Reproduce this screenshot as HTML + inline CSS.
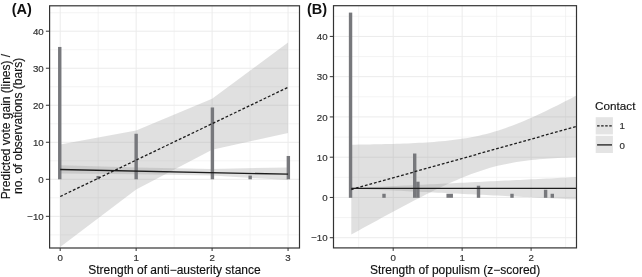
<!DOCTYPE html>
<html><head><meta charset="utf-8"><title>Figure</title>
<style>html,body{margin:0;padding:0;background:#fff;}svg{display:block;will-change:transform;}</style></head>
<body>
<svg width="642" height="277" viewBox="0 0 642 277" font-family='"Liberation Sans", sans-serif'>
<rect width="642" height="277" fill="#fff"/>
<clipPath id="clipA"><rect x="49.6" y="5.8" width="249.9" height="242.2"/></clipPath>
<rect x="49.6" y="5.8" width="249.9" height="242.2" fill="#fff"/>
<line x1="49.6" x2="299.5" y1="234.84" y2="234.84" stroke="#efefef" stroke-width="0.7"/>
<line x1="49.6" x2="299.5" y1="197.81" y2="197.81" stroke="#efefef" stroke-width="0.7"/>
<line x1="49.6" x2="299.5" y1="160.79" y2="160.79" stroke="#efefef" stroke-width="0.7"/>
<line x1="49.6" x2="299.5" y1="123.76" y2="123.76" stroke="#efefef" stroke-width="0.7"/>
<line x1="49.6" x2="299.5" y1="86.74" y2="86.74" stroke="#efefef" stroke-width="0.7"/>
<line x1="49.6" x2="299.5" y1="49.71" y2="49.71" stroke="#efefef" stroke-width="0.7"/>
<line x1="49.6" x2="299.5" y1="12.69" y2="12.69" stroke="#efefef" stroke-width="0.7"/>
<line y1="5.8" y2="248.0" x1="98.18" x2="98.18" stroke="#efefef" stroke-width="0.7"/>
<line y1="5.8" y2="248.0" x1="174.12" x2="174.12" stroke="#efefef" stroke-width="0.7"/>
<line y1="5.8" y2="248.0" x1="250.07" x2="250.07" stroke="#efefef" stroke-width="0.7"/>
<line x1="49.6" x2="299.5" y1="216.33" y2="216.33" stroke="#ebebeb" stroke-width="1"/>
<line x1="49.6" x2="299.5" y1="179.30" y2="179.30" stroke="#ebebeb" stroke-width="1"/>
<line x1="49.6" x2="299.5" y1="142.28" y2="142.28" stroke="#ebebeb" stroke-width="1"/>
<line x1="49.6" x2="299.5" y1="105.25" y2="105.25" stroke="#ebebeb" stroke-width="1"/>
<line x1="49.6" x2="299.5" y1="68.23" y2="68.23" stroke="#ebebeb" stroke-width="1"/>
<line x1="49.6" x2="299.5" y1="31.20" y2="31.20" stroke="#ebebeb" stroke-width="1"/>
<line y1="5.8" y2="248.0" x1="60.20" x2="60.20" stroke="#ebebeb" stroke-width="1"/>
<line y1="5.8" y2="248.0" x1="136.15" x2="136.15" stroke="#ebebeb" stroke-width="1"/>
<line y1="5.8" y2="248.0" x1="212.10" x2="212.10" stroke="#ebebeb" stroke-width="1"/>
<line y1="5.8" y2="248.0" x1="288.05" x2="288.05" stroke="#ebebeb" stroke-width="1"/>
<g clip-path="url(#clipA)">
<polygon points="60.20,144.60 136.15,130.60 212.10,98.80 288.05,42.50 288.05,133.10 212.10,149.70 136.15,189.40 60.20,247.00" fill="#999999" fill-opacity="0.3"/>
<polygon points="60.20,165.30 136.15,167.50 212.10,169.00 288.05,167.40 288.05,180.00 212.10,175.60 136.15,174.30 60.20,173.60" fill="#999999" fill-opacity="0.3"/>
<rect x="58.05" y="46.94" width="3.4" height="132.36" fill="#77787c" fill-opacity="1"/>
<rect x="96.48" y="175.97" width="3.4" height="3.33" fill="#77787c" fill-opacity="1"/>
<rect x="134.45" y="133.76" width="3.4" height="45.54" fill="#77787c" fill-opacity="1"/>
<rect x="210.70" y="107.47" width="3.4" height="71.83" fill="#77787c" fill-opacity="1"/>
<rect x="248.47" y="175.60" width="3.4" height="3.70" fill="#77787c" fill-opacity="1"/>
<rect x="286.65" y="155.97" width="3.4" height="23.33" fill="#77787c" fill-opacity="1"/>
<line x1="60.20" y1="196.5" x2="288.05" y2="87.3" stroke="#1c1c1c" stroke-width="1.3" stroke-dasharray="2.8 1.9"/>
<line x1="60.20" y1="169.5" x2="288.05" y2="174.2" stroke="#1c1c1c" stroke-width="1.3"/>
</g>
<rect x="49.6" y="5.8" width="249.9" height="242.2" fill="none" stroke="#333333" stroke-width="1.2"/>
<line x1="45.90" x2="49.6" y1="216.33" y2="216.33" stroke="#333333" stroke-width="1"/>
<text x="43.70" y="219.93" text-anchor="end" font-size="9.7" fill="#333333" stroke="#333333" stroke-width="0.2">−10</text>
<line x1="45.90" x2="49.6" y1="179.30" y2="179.30" stroke="#333333" stroke-width="1"/>
<text x="43.70" y="182.90" text-anchor="end" font-size="9.7" fill="#333333" stroke="#333333" stroke-width="0.2">0</text>
<line x1="45.90" x2="49.6" y1="142.28" y2="142.28" stroke="#333333" stroke-width="1"/>
<text x="43.70" y="145.88" text-anchor="end" font-size="9.7" fill="#333333" stroke="#333333" stroke-width="0.2">10</text>
<line x1="45.90" x2="49.6" y1="105.25" y2="105.25" stroke="#333333" stroke-width="1"/>
<text x="43.70" y="108.85" text-anchor="end" font-size="9.7" fill="#333333" stroke="#333333" stroke-width="0.2">20</text>
<line x1="45.90" x2="49.6" y1="68.23" y2="68.23" stroke="#333333" stroke-width="1"/>
<text x="43.70" y="71.83" text-anchor="end" font-size="9.7" fill="#333333" stroke="#333333" stroke-width="0.2">30</text>
<line x1="45.90" x2="49.6" y1="31.20" y2="31.20" stroke="#333333" stroke-width="1"/>
<text x="43.70" y="34.80" text-anchor="end" font-size="9.7" fill="#333333" stroke="#333333" stroke-width="0.2">40</text>
<line y1="248.0" y2="251.00" x1="60.20" x2="60.20" stroke="#333333" stroke-width="1"/>
<text x="60.20" y="260.90" text-anchor="middle" font-size="9.7" fill="#333333" stroke="#333333" stroke-width="0.2">0</text>
<line y1="248.0" y2="251.00" x1="136.15" x2="136.15" stroke="#333333" stroke-width="1"/>
<text x="136.15" y="260.90" text-anchor="middle" font-size="9.7" fill="#333333" stroke="#333333" stroke-width="0.2">1</text>
<line y1="248.0" y2="251.00" x1="212.10" x2="212.10" stroke="#333333" stroke-width="1"/>
<text x="212.10" y="260.90" text-anchor="middle" font-size="9.7" fill="#333333" stroke="#333333" stroke-width="0.2">2</text>
<line y1="248.0" y2="251.00" x1="288.05" x2="288.05" stroke="#333333" stroke-width="1"/>
<text x="288.05" y="260.90" text-anchor="middle" font-size="9.7" fill="#333333" stroke="#333333" stroke-width="0.2">3</text>
<clipPath id="clipB"><rect x="333.5" y="5.7" width="243.0" height="242.20000000000002"/></clipPath>
<rect x="333.5" y="5.7" width="243.0" height="242.20000000000002" fill="#fff"/>
<line x1="333.5" x2="576.5" y1="217.58" y2="217.58" stroke="#efefef" stroke-width="0.7"/>
<line x1="333.5" x2="576.5" y1="177.32" y2="177.32" stroke="#efefef" stroke-width="0.7"/>
<line x1="333.5" x2="576.5" y1="137.06" y2="137.06" stroke="#efefef" stroke-width="0.7"/>
<line x1="333.5" x2="576.5" y1="96.80" y2="96.80" stroke="#efefef" stroke-width="0.7"/>
<line x1="333.5" x2="576.5" y1="56.54" y2="56.54" stroke="#efefef" stroke-width="0.7"/>
<line x1="333.5" x2="576.5" y1="16.28" y2="16.28" stroke="#efefef" stroke-width="0.7"/>
<line y1="5.7" y2="247.9" x1="358.72" x2="358.72" stroke="#efefef" stroke-width="0.7"/>
<line y1="5.7" y2="247.9" x1="427.68" x2="427.68" stroke="#efefef" stroke-width="0.7"/>
<line y1="5.7" y2="247.9" x1="496.62" x2="496.62" stroke="#efefef" stroke-width="0.7"/>
<line y1="5.7" y2="247.9" x1="565.58" x2="565.58" stroke="#efefef" stroke-width="0.7"/>
<line x1="333.5" x2="576.5" y1="237.71" y2="237.71" stroke="#ebebeb" stroke-width="1"/>
<line x1="333.5" x2="576.5" y1="197.45" y2="197.45" stroke="#ebebeb" stroke-width="1"/>
<line x1="333.5" x2="576.5" y1="157.19" y2="157.19" stroke="#ebebeb" stroke-width="1"/>
<line x1="333.5" x2="576.5" y1="116.93" y2="116.93" stroke="#ebebeb" stroke-width="1"/>
<line x1="333.5" x2="576.5" y1="76.67" y2="76.67" stroke="#ebebeb" stroke-width="1"/>
<line x1="333.5" x2="576.5" y1="36.41" y2="36.41" stroke="#ebebeb" stroke-width="1"/>
<line y1="5.7" y2="247.9" x1="393.20" x2="393.20" stroke="#ebebeb" stroke-width="1"/>
<line y1="5.7" y2="247.9" x1="462.15" x2="462.15" stroke="#ebebeb" stroke-width="1"/>
<line y1="5.7" y2="247.9" x1="531.10" x2="531.10" stroke="#ebebeb" stroke-width="1"/>
<g clip-path="url(#clipB)">
<polygon points="351.30,144.69 355.05,144.65 358.81,144.60 362.56,144.55 366.31,144.49 370.07,144.43 373.82,144.36 377.57,144.29 381.33,144.21 385.08,144.12 388.83,144.02 392.59,143.92 396.34,143.81 400.09,143.68 403.85,143.55 407.60,143.40 411.35,143.24 415.11,143.06 418.86,142.87 422.61,142.66 426.37,142.43 430.12,142.18 433.87,141.90 437.63,141.60 441.38,141.28 445.13,140.92 448.89,140.52 452.64,140.09 456.39,139.62 460.15,139.10 463.90,138.53 467.65,137.92 471.41,137.24 475.16,136.51 478.91,135.71 482.67,134.84 486.42,133.91 490.17,132.91 493.93,131.84 497.68,130.70 501.43,129.49 505.19,128.21 508.94,126.87 512.69,125.47 516.45,124.01 520.20,122.49 523.95,120.93 527.71,119.32 531.46,117.66 535.21,115.97 538.97,114.24 542.72,112.48 546.47,110.69 550.23,108.87 553.98,107.03 557.73,105.16 561.49,103.28 565.24,101.37 568.99,99.45 572.75,97.52 576.50,95.57 576.50,157.20 572.75,157.33 568.99,157.48 565.24,157.64 561.49,157.81 557.73,158.01 553.98,158.23 550.23,158.46 546.47,158.73 542.72,159.02 538.97,159.34 535.21,159.69 531.46,160.08 527.71,160.51 523.95,160.99 520.20,161.51 516.45,162.08 512.69,162.71 508.94,163.40 505.19,164.16 501.43,164.97 497.68,165.86 493.93,166.82 490.17,167.85 486.42,168.96 482.67,170.13 478.91,171.38 475.16,172.69 471.41,174.07 467.65,175.51 463.90,177.01 460.15,178.56 456.39,180.17 452.64,181.82 448.89,183.51 445.13,185.24 441.38,187.00 437.63,188.80 433.87,190.62 430.12,192.47 426.37,194.35 422.61,196.24 418.86,198.16 415.11,200.09 411.35,202.04 407.60,204.01 403.85,205.99 400.09,207.98 396.34,209.98 392.59,211.99 388.83,214.01 385.08,216.04 381.33,218.08 377.57,220.13 373.82,222.18 370.07,224.24 366.31,226.30 362.56,228.37 358.81,230.45 355.05,232.53 351.30,234.61" fill="#999999" fill-opacity="0.3"/>
<polygon points="351.30,187.59 355.05,187.56 358.81,187.49 362.56,187.39 366.31,187.26 370.07,187.12 373.82,186.97 377.57,186.80 381.33,186.64 385.08,186.47 388.83,186.29 392.59,186.12 396.34,185.94 400.09,185.76 403.85,185.59 407.60,185.41 411.35,185.22 415.11,185.04 418.86,184.86 422.61,184.68 426.37,184.50 430.12,184.31 433.87,184.13 437.63,183.95 441.38,183.76 445.13,183.58 448.89,183.39 452.64,183.21 456.39,183.03 460.15,182.84 463.90,182.66 467.65,182.47 471.41,182.29 475.16,182.10 478.91,181.92 482.67,181.73 486.42,181.55 490.17,181.36 493.93,181.18 497.68,180.99 501.43,180.81 505.19,180.62 508.94,180.43 512.69,180.25 516.45,180.06 520.20,179.88 523.95,179.69 527.71,179.51 531.46,179.32 535.21,179.14 538.97,178.95 542.72,178.76 546.47,178.58 550.23,178.39 553.98,178.21 557.73,178.02 561.49,177.84 565.24,177.65 568.99,177.46 572.75,177.28 576.50,177.09 576.50,199.51 572.75,199.32 568.99,199.14 565.24,198.95 561.49,198.76 557.73,198.58 553.98,198.39 550.23,198.21 546.47,198.02 542.72,197.84 538.97,197.65 535.21,197.46 531.46,197.28 527.71,197.09 523.95,196.91 520.20,196.72 516.45,196.54 512.69,196.35 508.94,196.17 505.19,195.98 501.43,195.79 497.68,195.61 493.93,195.42 490.17,195.24 486.42,195.05 482.67,194.87 478.91,194.68 475.16,194.50 471.41,194.31 467.65,194.13 463.90,193.94 460.15,193.76 456.39,193.57 452.64,193.39 448.89,193.21 445.13,193.02 441.38,192.84 437.63,192.65 433.87,192.47 430.12,192.29 426.37,192.10 422.61,191.92 418.86,191.74 415.11,191.56 411.35,191.38 407.60,191.19 403.85,191.01 400.09,190.84 396.34,190.66 392.59,190.48 388.83,190.31 385.08,190.13 381.33,189.96 377.57,189.80 373.82,189.63 370.07,189.48 366.31,189.34 362.56,189.21 358.81,189.11 355.05,189.04 351.30,189.01" fill="#999999" fill-opacity="0.3"/>
<rect x="348.85" y="12.60" width="3.4" height="185.20" fill="#77787c" fill-opacity="1"/>
<rect x="382.30" y="193.77" width="3.4" height="4.03" fill="#77787c" fill-opacity="1"/>
<rect x="413.00" y="153.51" width="3.4" height="44.29" fill="#77787c" fill-opacity="1"/>
<rect x="416.20" y="181.70" width="3.4" height="16.10" fill="#77787c" fill-opacity="1"/>
<rect x="446.45" y="193.77" width="6.5" height="4.03" fill="#77787c" fill-opacity="1"/>
<rect x="476.80" y="185.72" width="3.4" height="12.08" fill="#77787c" fill-opacity="1"/>
<rect x="510.30" y="193.77" width="3.4" height="4.03" fill="#77787c" fill-opacity="1"/>
<rect x="543.90" y="189.75" width="3.4" height="8.05" fill="#77787c" fill-opacity="1"/>
<rect x="550.60" y="193.77" width="3.4" height="4.03" fill="#77787c" fill-opacity="1"/>
<line x1="351.3" y1="189.5" x2="576.5" y2="126.4" stroke="#1c1c1c" stroke-width="1.3" stroke-dasharray="2.8 1.9"/>
<line x1="351.3" y1="188.3" x2="576.5" y2="188.3" stroke="#1c1c1c" stroke-width="1.3"/>
</g>
<rect x="333.5" y="5.7" width="243.0" height="242.20000000000002" fill="none" stroke="#333333" stroke-width="1.2"/>
<line x1="329.80" x2="333.5" y1="237.71" y2="237.71" stroke="#333333" stroke-width="1"/>
<text x="327.60" y="241.31" text-anchor="end" font-size="9.7" fill="#333333" stroke="#333333" stroke-width="0.2">−10</text>
<line x1="329.80" x2="333.5" y1="197.45" y2="197.45" stroke="#333333" stroke-width="1"/>
<text x="327.60" y="201.05" text-anchor="end" font-size="9.7" fill="#333333" stroke="#333333" stroke-width="0.2">0</text>
<line x1="329.80" x2="333.5" y1="157.19" y2="157.19" stroke="#333333" stroke-width="1"/>
<text x="327.60" y="160.79" text-anchor="end" font-size="9.7" fill="#333333" stroke="#333333" stroke-width="0.2">10</text>
<line x1="329.80" x2="333.5" y1="116.93" y2="116.93" stroke="#333333" stroke-width="1"/>
<text x="327.60" y="120.53" text-anchor="end" font-size="9.7" fill="#333333" stroke="#333333" stroke-width="0.2">20</text>
<line x1="329.80" x2="333.5" y1="76.67" y2="76.67" stroke="#333333" stroke-width="1"/>
<text x="327.60" y="80.27" text-anchor="end" font-size="9.7" fill="#333333" stroke="#333333" stroke-width="0.2">30</text>
<line x1="329.80" x2="333.5" y1="36.41" y2="36.41" stroke="#333333" stroke-width="1"/>
<text x="327.60" y="40.01" text-anchor="end" font-size="9.7" fill="#333333" stroke="#333333" stroke-width="0.2">40</text>
<line y1="247.9" y2="250.90" x1="393.20" x2="393.20" stroke="#333333" stroke-width="1"/>
<text x="393.20" y="260.80" text-anchor="middle" font-size="9.7" fill="#333333" stroke="#333333" stroke-width="0.2">0</text>
<line y1="247.9" y2="250.90" x1="462.15" x2="462.15" stroke="#333333" stroke-width="1"/>
<text x="462.15" y="260.80" text-anchor="middle" font-size="9.7" fill="#333333" stroke="#333333" stroke-width="0.2">1</text>
<line y1="247.9" y2="250.90" x1="531.10" x2="531.10" stroke="#333333" stroke-width="1"/>
<text x="531.10" y="260.80" text-anchor="middle" font-size="9.7" fill="#333333" stroke="#333333" stroke-width="0.2">2</text>
<text x="11.7" y="13.8" font-size="14.5" font-weight="bold" fill="#111111">(A)</text>
<text x="307.0" y="13.8" font-size="14.5" font-weight="bold" fill="#111111">(B)</text>
<text x="174.5" y="274.2" text-anchor="middle" font-size="12" fill="#111111" stroke="#111111" stroke-width="0.15">Strength of anti−austerity stance</text>
<text x="455.1" y="274.2" text-anchor="middle" font-size="12" fill="#111111" stroke="#111111" stroke-width="0.15">Strength of populism (z−scored)</text>
<text transform="translate(10.2,126.5) rotate(-90)" text-anchor="middle" font-size="12" fill="#111111" stroke="#111111" stroke-width="0.15">Predicted vote gain (lines) /</text>
<text transform="translate(21.8,125.85) rotate(-90)" text-anchor="middle" font-size="12" fill="#111111" stroke="#111111" stroke-width="0.15">no. of observations (bars)</text>
<text x="595.1" y="109.6" font-size="11.7" fill="#111111" stroke="#111111" stroke-width="0.15">Contact</text>
<rect x="595.7" y="117.2" width="17.2" height="17.2" fill="#e4e4e4"/>
<rect x="595.7" y="135.8" width="17.2" height="17.2" fill="#e4e4e4"/>
<line x1="597.1" x2="612" y1="125.8" y2="125.8" stroke="#1c1c1c" stroke-width="1.3" stroke-dasharray="2.5 1.55"/>
<line x1="597.1" x2="612" y1="144.9" y2="144.9" stroke="#1c1c1c" stroke-width="1.3"/>
<text x="619.6" y="129.3" font-size="9.7" fill="#333333" stroke="#333333" stroke-width="0.2">1</text>
<text x="619.6" y="148.6" font-size="9.7" fill="#333333" stroke="#333333" stroke-width="0.2">0</text>
</svg>
</body></html>
